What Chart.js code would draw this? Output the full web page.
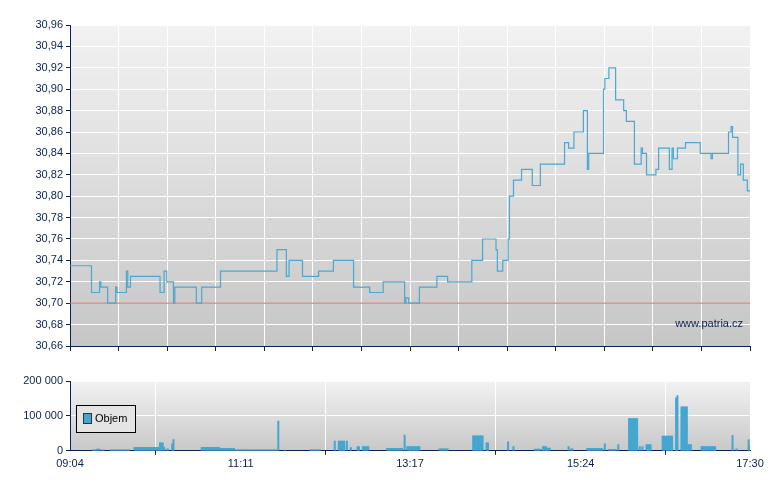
<!DOCTYPE html>
<html><head><meta charset="utf-8">
<script src="https://cdn.jsdelivr.net/npm/chart.js@4/dist/chart.umd.min.js"></script>
<style>body{margin:0;background:#fff;width:780px;height:490px;position:relative;overflow:hidden}
canvas{position:absolute;left:0}</style></head><body>
<div style="position:absolute;left:0;top:0;width:780px;height:360px"><canvas id="c1"></canvas></div>
<div style="position:absolute;left:0;top:360px;width:780px;height:130px"><canvas id="c2"></canvas></div>
<script>
// minutes since 09:04
const priceTimes = [0,16,22,23,28,34,35,42,43,45,67,70,72,77,78,94,98,112,154,161,163,173,185,196,211,223,233,249,250,252,260,273,281,299,307,317,318,322,326,327,330,336,344,350,368,371,375,382,385,386,397,398,401,406,412,414,420,425,426,429,436,438,446,448,449,452,458,469,477,478,490,492,493,497,499,501,504,506];
const priceValues = [30.735,30.71,30.72,30.715,30.70,30.715,30.71,30.73,30.715,30.725,30.71,30.73,30.72,30.70,30.715,30.70,30.715,30.73,30.75,30.725,30.74,30.725,30.73,30.74,30.715,30.71,30.72,30.70,30.705,30.70,30.715,30.725,30.72,30.74,30.76,30.75,30.73,30.74,30.76,30.80,30.815,30.825,30.81,30.83,30.85,30.845,30.86,30.88,30.825,30.84,30.90,30.91,30.92,30.89,30.88,30.87,30.83,30.845,30.84,30.82,30.825,30.845,30.825,30.845,30.835,30.845,30.85,30.84,30.835,30.84,30.86,30.865,30.855,30.82,30.83,30.815,30.805,30.805];
const refPrice = 30.70;
// volume: [startMin, endMin, value]
const volStart = [17,20,24,30,48,56,67,70,72,76,77,98,112,123,155,160,179,197,200,204,206,209,214,218,236,249,251,275,300,310,311,326,330,346,352,355,371,373,385,398,401,408,416,424,426,429,441,448,451,452,455,460,470,480,493,496,505,506];
const volEnd   = [19,22,25,44,55,66,69,70,73,76,77,111,122,154,155,160,186,197,204,204,206,209,215,222,247,249,260,281,307,310,311,326,330,350,354,357,371,374,396,398,406,408,422,424,426,432,448,448,451,452,459,462,480,480,493,496,505,506];
const volValues= [3000,5000,3000,3000,10000,10000,23000,10000,5000,20000,32000,10000,7000,3000,85000,2000,3000,28000,28000,15000,28000,9000,12000,12000,7000,45000,12000,6000,43000,23000,23000,26000,12000,5000,12000,8000,12000,6000,7000,20000,4000,18000,92000,12000,12000,18000,42000,15000,152000,158000,126000,18000,12000,3000,44000,6000,32000,15000];
const xLabels = ['09:04','11:11','13:17','15:24','17:30'];
const xLabelPos = [0,127,253,380,506];

const volData=[];
volStart.forEach((s,i)=>{for(let m=s;m<=volEnd[i];m++)volData.push({x:m,y:volValues[i]});});
const navy='#0b2154', font={family:'Liberation Sans, Arial',size:11};
const bgPlugin=(c1,c2)=>({id:'bg',beforeDraw(ch){const a=ch.chartArea,ctx=ch.ctx;const g=ctx.createLinearGradient(0,a.top,0,a.bottom);g.addColorStop(0,c1);g.addColorStop(1,c2);ctx.save();ctx.fillStyle=g;ctx.fillRect(a.left,a.top,a.width,a.height);ctx.restore();}});
const yfit=s=>{s.width=70;};

new Chart(document.getElementById('c1'),{
 type:'line',
 data:{datasets:[
  {data:priceTimes.map((t,i)=>({x:t,y:priceValues[i]})),stepped:true,borderColor:'#4aa8d2',borderWidth:1.2,pointRadius:0},
  {data:[{x:0,y:refPrice},{x:506,y:refPrice}],borderColor:'#e06060',borderWidth:1,pointRadius:0}
 ]},
 plugins:[bgPlugin('#f2f2f2','#c6c6c6'),{id:'wm',afterDraw(ch){const ctx=ch.ctx;ctx.save();ctx.fillStyle=navy;ctx.font='11px Liberation Sans, Arial';ctx.textAlign='right';ctx.fillText('www.patria.cz',743,327);ctx.restore();}}],
 options:{responsive:true,maintainAspectRatio:false,animation:false,layout:{padding:{top:25,right:30,left:0,bottom:0}},
  plugins:{legend:{display:false},tooltip:{enabled:false}},
  scales:{
   x:{type:'linear',min:0,max:506,afterBuildTicks(s){s.ticks=[];for(let i=0;i<=14;i++)s.ticks.push({value:i*506/14});},
      afterFit(s){s.height=14;},
      ticks:{callback:()=>'',font},grid:{color:'#ffffff',lineWidth:1,tickLength:5,tickColor:navy},border:{color:navy}},
   y:{min:30.66,max:30.96,afterFit:yfit,afterBuildTicks(s){s.ticks=[];for(let i=0;i<=15;i++)s.ticks.push({value:30.66+i*0.02});},
      ticks:{color:navy,font,padding:3,callback:v=>v.toFixed(2).replace('.',',')},grid:{color:'#ffffff',tickLength:4,tickColor:navy},border:{color:navy}}
  }}
});

new Chart(document.getElementById('c2'),{
 type:'bar',
 data:{datasets:[{data:volData,backgroundColor:'#45a6d1',barPercentage:1,categoryPercentage:1}]},
 plugins:[bgPlugin('#f2f2f2','#c8c8c8'),{id:'lg',afterDraw(ch){const ctx=ch.ctx;ctx.save();ctx.fillStyle='#e4e4e4';ctx.fillRect(76,45,59,27);ctx.strokeStyle='#000';ctx.lineWidth=1;ctx.strokeRect(76.5,45.5,59,27);ctx.fillStyle='#45a6d1';ctx.fillRect(84,54,7,9);ctx.strokeStyle='#333';ctx.strokeRect(83.5,53.5,8,10);ctx.fillStyle='#000';ctx.font='11px Liberation Sans, Arial';ctx.textBaseline='middle';ctx.fillText('Objem',95,59);ctx.restore();}}],
 options:{responsive:true,maintainAspectRatio:false,animation:false,layout:{padding:{top:21,right:30,left:0,bottom:16}},
  plugins:{legend:{display:false},tooltip:{enabled:false}},
  scales:{
   x:{type:'linear',min:0,max:506,offset:false,afterBuildTicks(s){s.ticks=xLabelPos.map(v=>({value:v}));},
      ticks:{color:navy,font,maxRotation:0,callback:(v)=>xLabels[xLabelPos.indexOf(v)]},grid:{color:'#ffffff',tickLength:4,tickColor:navy},border:{color:navy}},
   y:{min:0,max:200000,afterFit:yfit,afterBuildTicks(s){s.ticks=[0,100000,200000].map(v=>({value:v}));},
      ticks:{color:navy,font,padding:3,callback:v=>String(v).replace(/\B(?=(\d{3})+(?!\d))/g,' ')},grid:{color:'#ffffff',tickLength:4,tickColor:navy},border:{color:navy}}
  }}
});
</script></body></html>
